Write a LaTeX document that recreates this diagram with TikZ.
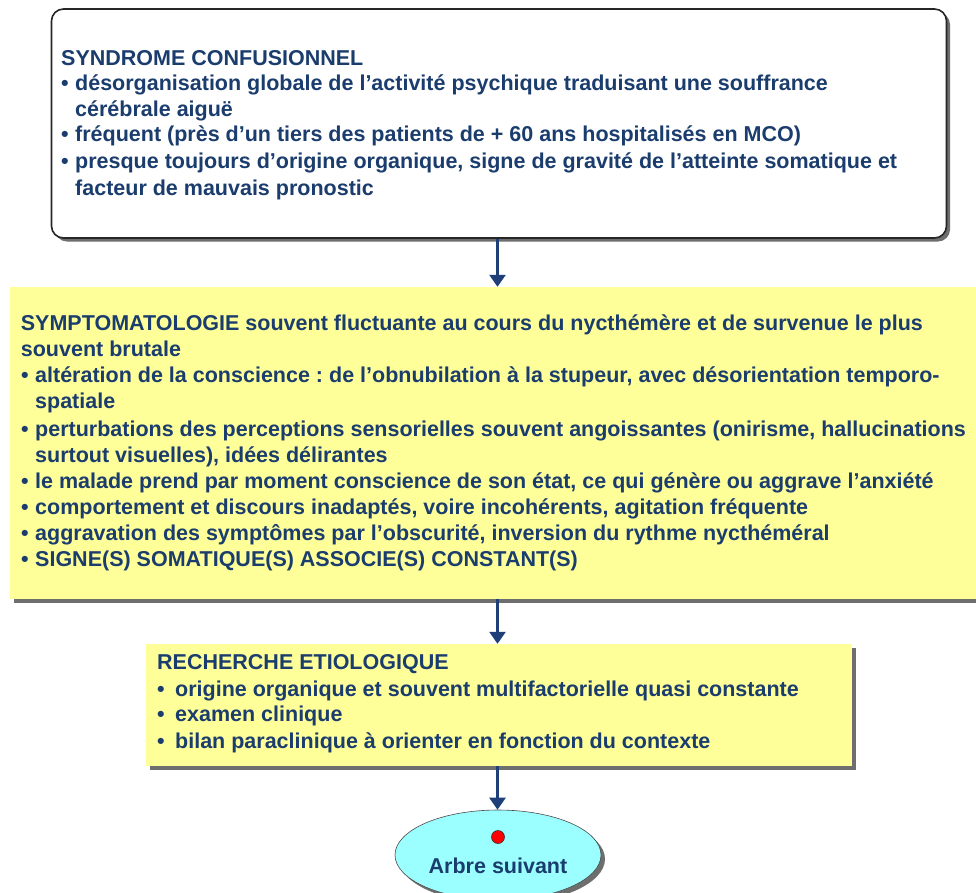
\documentclass[tikz,border=0pt]{standalone}
\usepackage{fontspec}
\setmainfont{Liberation Sans}
\usetikzlibrary{arrows.meta,shadows,shapes.geometric}
\definecolor{txtblue}{HTML}{1B3D6E}
\definecolor{arrblue}{HTML}{1F3F78}
\definecolor{pale}{HTML}{FFFF99}
\definecolor{cyanfill}{HTML}{9CFFFF}
\definecolor{shadowgray}{HTML}{6E6E6E}
\newcommand\txtline[4]{\node[txt] (#1) at (#2,#3) {#4};}
\newcommand\bul[3]{\node[txt] (#1) at (#2,#3) {\textbullet};}
\frenchspacing
\begin{document}
\begin{tikzpicture}[x=1pt,y=-1pt,
  txt/.style={anchor=base west,inner sep=0pt,text=txtblue,font=\fontsize{21.5}{26}\selectfont\bfseries\frenchspacing},
  sh/.style={drop shadow={shadow xshift=3.5pt,shadow yshift=-3.5pt,fill=shadowgray,opacity=1}},
  whitebox/.style={draw=black!85,line width=1.6pt,fill=white,rounded corners=12pt,inner sep=0pt,sh},
  yelbox/.style={fill=pale,inner sep=0pt,sh},
  oval/.style={ellipse,draw=black!70,line width=0.6pt,fill=cyanfill,inner sep=0pt,drop shadow={shadow xshift=4pt,shadow yshift=-4pt,fill=shadowgray,opacity=1}},
  arr/.style={arrblue,line width=2.6pt,-{Triangle[length=12pt,width=16pt]}}]
\clip (0,0) rectangle (976,892);
\fill[white] (0,0) rectangle (976,892);

% boxes
\node[whitebox,minimum width=895pt,minimum height=229pt] (b1) at (499,123.5) {};
\node[yelbox,minimum width=972pt,minimum height=312pt] (b2) at (496,443) {};
\node[yelbox,minimum width=706pt,minimum height=122pt] (b3) at (499,705) {};
\node[oval,minimum width=206pt,minimum height=90pt] (b4) at (498,855) {};
\node[circle,fill=red,draw=black!80,line width=0.6pt,minimum size=13pt,inner sep=0pt] (dot) at (498,837) {};

% arrows
\coordinate (a1s) at (497.5,238);
\coordinate (a1e) at (497.5,286);
\coordinate (a2s) at (497.5,599);
\coordinate (a2e) at (497.5,643);
\coordinate (a3s) at (497.5,766);
\coordinate (a3e) at (497.5,810);
\draw[arr] (b1.south -| a1s) -- (b2.north -| a1e);
\draw[arr] (b2.south -| a2s) -- (b3.north -| a2e);
\draw[arr] (b3.south -| a3s) -- (b4.north -| a3e);

% box 1 text
\txtline{t1}{61}{65}{SYNDROME CONFUSIONNEL}
\bul{u1}{61}{90.7}
\txtline{t2}{75}{90.7}{désorganisation globale de l'activité psychique traduisant une souffrance}
\txtline{t3}{75}{116.7}{cérébrale aiguë}
\bul{u2}{61}{141.7}
\txtline{t4}{75}{141.7}{fréquent (près d'un tiers des patients de + 60 ans hospitalisés en MCO)}
\bul{u3}{61}{168}
\txtline{t5}{75}{168}{presque toujours d'origine organique, signe de gravité de l'atteinte somatique et}
\txtline{t6}{75}{195}{facteur de mauvais pronostic}

% box 2 text
\txtline{s1}{20.7}{330.7}{SYMPTOMATOLOGIE souvent fluctuante au cours du nycthémère et de survenue le plus}
\txtline{s2}{20.7}{356.7}{souvent brutale}
\bul{v1}{21}{382.7}
\txtline{s3}{35}{382.7}{altération de la conscience : de l'obnubilation à la stupeur, avec désorientation temporo-}
\txtline{s4}{35}{408.5}{spatiale}
\bul{v2}{21}{436.7}
\txtline{s5}{35}{436.7}{perturbations des perceptions sensorielles souvent angoissantes (onirisme, hallucinations}
\txtline{s6}{35}{462.7}{surtout visuelles), idées délirantes}
\bul{v3}{21}{488.7}
\txtline{s7}{35}{488.7}{le malade prend par moment conscience de son état, ce qui génère ou aggrave l'anxiété}
\bul{v4}{21}{514.7}
\txtline{s8}{35}{514.7}{comportement et discours inadaptés, voire incohérents, agitation fréquente}
\bul{v5}{21}{540.7}
\txtline{s9}{35}{540.7}{aggravation des symptômes par l'obscurité, inversion du rythme nycthéméral}
\bul{v6}{21}{566.7}
\txtline{s10}{35}{566.7}{SIGNE(S) SOMATIQUE(S) ASSOCIE(S) CONSTANT(S)}

% box 3 text
\txtline{r1}{157}{669.3}{RECHERCHE ETIOLOGIQUE}
\bul{w1}{157}{696}
\txtline{r2}{175}{696}{origine organique et souvent multifactorielle quasi constante}
\bul{w2}{157}{721.7}
\txtline{r3}{175}{721.7}{examen clinique}
\bul{w3}{157}{748.3}
\txtline{r4}{175}{748.3}{bilan paraclinique à orienter en fonction du contexte}

% oval text
\node[txt,anchor=base] (e1) at (498,873) {Arbre suivant};
\end{tikzpicture}
\end{document}
